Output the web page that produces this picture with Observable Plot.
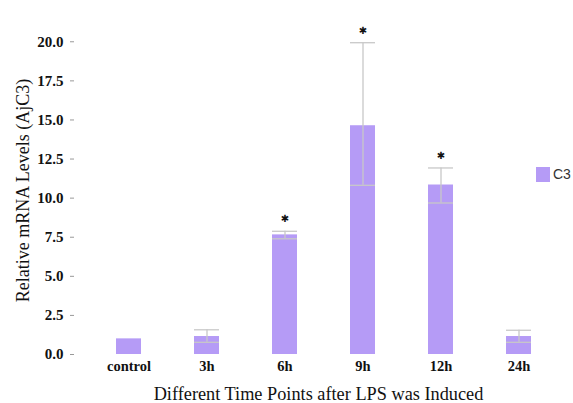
<!DOCTYPE html>
<html>
<head>
<meta charset="utf-8">
<script src="https://cdn.jsdelivr.net/npm/d3@7"></script>
<script src="https://cdn.jsdelivr.net/npm/@observablehq/plot@0.6"></script>
<style>
  html, body { margin: 0; padding: 0; background: #fff; overflow: hidden; }
  #wrap { position: relative; width: 573px; height: 403px; overflow: hidden; }
  #legend { position: absolute; left: 536px; top: 166px; display: flex; align-items: center; font-family: "Liberation Sans", Arial, sans-serif; font-size: 14px; color: #333; white-space: nowrap; }
  #legend .sw { width: 14px; height: 15px; background: #b59bf6; margin-right: 3px; }
</style>
</head>
<body>
<div id="wrap"><div id="legend"><div class="sw"></div><span>C3</span></div></div>
<script>
const categories = ["control", "3h", "6h", "9h", "12h", "24h"];
const values = [1.0, 1.15, 7.65, 14.63, 10.84, 1.15];
const upper = [null, 1.58, 7.88, 19.94, 11.93, 1.55];
const lower = [null, 0.78, 7.40, 10.82, 9.69, 0.78];
const significant = [false, false, true, true, true, false];
const yTicks = [0, 2.5, 5, 7.5, 10, 12.5, 15, 17.5, 20];
const seriesName = "C3";
const xTitle = "Different Time Points after LPS was Induced";
const yTitle = "Relative mRNA Levels (AjC3)";

const data = categories.map((c, i) => ({cat: c, value: values[i], upper: upper[i], lower: lower[i], sig: significant[i]}));
const errs = data.filter(d => d.upper != null);
const stars = data.filter(d => d.sig);
const serif = "'Liberation Serif', 'Times New Roman', serif";

const chart = Plot.plot({
  width: 573,
  height: 403,
  marginLeft: 74,
  marginRight: 1,
  marginTop: 10,
  marginBottom: 49,
  style: {fontFamily: serif, fontSize: "14px", color: "#111", background: "white"},
  x: {domain: categories, range: [89, 557], paddingInner: 0.68, paddingOuter: 0.34, align: 0.5},
  y: {domain: [0, 22]},
  marks: [
    Plot.barY(data, {x: "cat", y: "value", fill: "#b59bf6"}),
    Plot.ruleX(errs, {x: "cat", y1: "lower", y2: "upper", stroke: "#c8c8c8", strokeWidth: 1.3}),
    Plot.tickY(errs, {x: "cat", y: "upper", stroke: "#c8c8c8", strokeWidth: 1.3}),
    Plot.tickY(errs, {x: "cat", y: "lower", stroke: "#c8c8c8", strokeWidth: 1.3}),
    Plot.text(stars, {x: "cat", y: "upper", text: () => "\u2731", dy: -12, fontSize: 10, fill: "#111", fontFamily: "DejaVu Sans"}),
    Plot.axisY({ticks: yTicks, tickFormat: d3.format(".1f"), tickSize: 4, tickPadding: 7, stroke: "#999", fill: "#111", line: true, label: null, fontSize: 15, fontWeight: "bold", fontFamily: serif}),
    Plot.axisX({tickSize: 0, tickPadding: 6, stroke: "#999", fill: "#111", line: true, label: null, fontSize: 14.5, fontWeight: "bold", fontFamily: serif}),
    Plot.text([yTitle], {frameAnchor: "left", textAnchor: "middle", lineAnchor: "middle", text: d => d, rotate: -90, dx: -51, dy: 8, fontSize: 18, fill: "#111"}),
    Plot.text([xTitle], {frameAnchor: "bottom", textAnchor: "middle", lineAnchor: "middle", text: d => d, dx: -5, dy: 39.5, fontSize: 18.3, fill: "#111"})
  ]
});
document.getElementById("wrap").prepend(chart);
document.querySelector("#legend span").textContent = seriesName;
</script>
</body>
</html>
